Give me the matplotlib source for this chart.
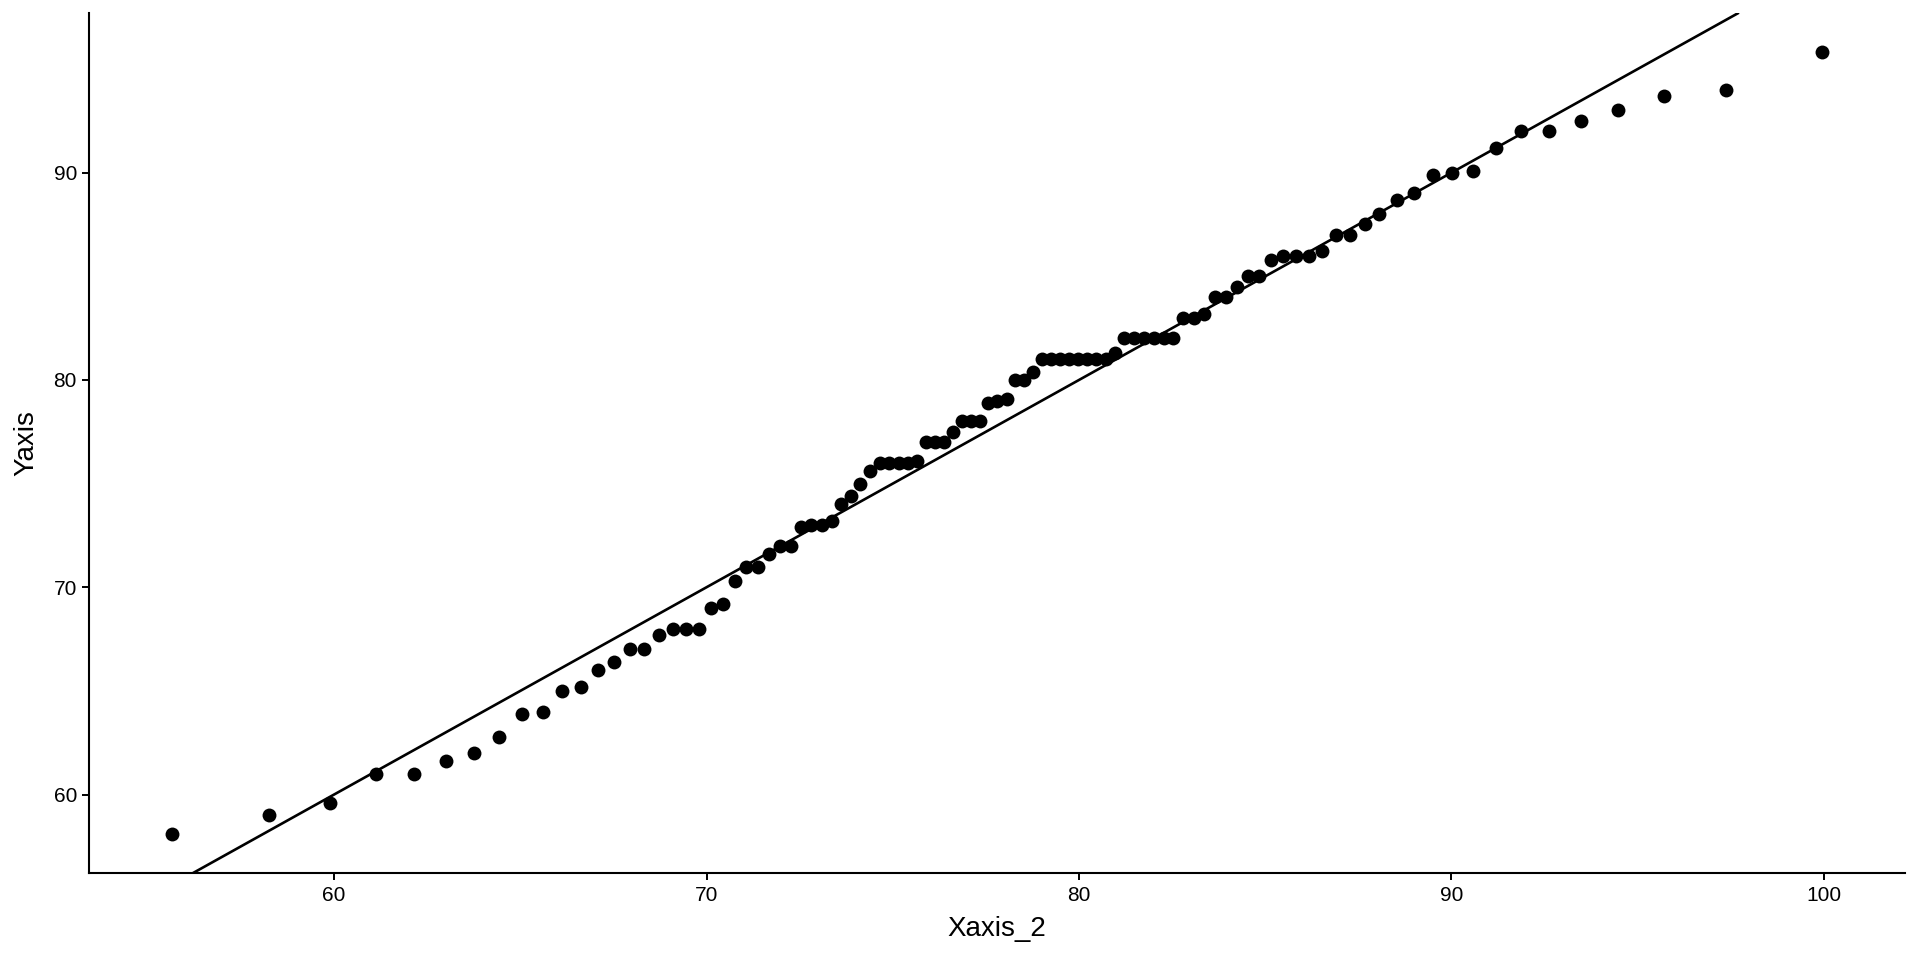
import matplotlib
matplotlib.use("Agg")
import matplotlib.pyplot as plt

plt.rcParams['font.family'] = ['Liberation Sans', 'DejaVu Sans']

# values (Xaxis_2 vs Yaxis, sorted pairs)
xaxis_2 = [55.65, 58.25, 59.89, 61.14, 62.14, 63.00, 63.75, 64.42, 65.04, 65.60,
           66.13, 66.62, 67.09, 67.51, 67.94, 68.32, 68.72, 69.09, 69.44, 69.79,
           70.12, 70.45, 70.77, 71.07, 71.38, 71.68, 71.97, 72.26, 72.54, 72.81,
           73.09, 73.37, 73.61, 73.88, 74.13, 74.39, 74.65, 74.90, 75.16, 75.41,
           75.65, 75.89, 76.13, 76.37, 76.61, 76.86, 77.10, 77.34, 77.57, 77.81,
           78.06, 78.28, 78.52, 78.76, 79.00, 79.25, 79.49, 79.73, 79.97, 80.21,
           80.46, 80.73, 80.97, 81.21, 81.47, 81.74, 82.01, 82.28, 82.53, 82.79,
           83.08, 83.36, 83.65, 83.94, 84.23, 84.53, 84.84, 85.16, 85.48, 85.82,
           86.17, 86.52, 86.90, 87.27, 87.68, 88.06, 88.54, 89.00, 89.50, 90.01,
           90.59, 91.19, 91.87, 92.62, 93.47, 94.48, 95.71, 97.37, 99.96]
yaxis = [58.1, 59.0, 59.6, 61.0, 61.0, 61.6, 62.0, 62.8, 63.9, 64.0,
         65.0, 65.2, 66.0, 66.4, 67.0, 67.0, 67.7, 68.0, 68.0, 68.0,
         69.0, 69.2, 70.3, 71.0, 71.0, 71.6, 72.0, 72.0, 72.9, 73.0,
         73.0, 73.2, 74.0, 74.4, 75.0, 75.6, 76.0, 76.0, 76.0, 76.0,
         76.1, 77.0, 77.0, 77.0, 77.5, 78.0, 78.0, 78.0, 78.9, 79.0,
         79.1, 80.0, 80.0, 80.4, 81.0, 81.0, 81.0, 81.0, 81.0, 81.0,
         81.0, 81.0, 81.3, 82.0, 82.0, 82.0, 82.0, 82.0, 82.0, 83.0,
         83.0, 83.2, 84.0, 84.0, 84.5, 85.0, 85.0, 85.8, 86.0, 86.0,
         86.0, 86.2, 87.0, 87.0, 87.5, 88.0, 88.7, 89.0, 89.9, 90.0,
         90.1, 91.2, 92.0, 92.0, 92.5, 93.0, 93.7, 94.0, 95.8]

# reference line y = intercept + slope * x
line_intercept = 0.0
line_slope = 1.0

x_ticks = [60, 70, 80, 90, 100]
y_ticks = [60, 70, 80, 90]

fig = plt.figure(figsize=(19.2, 9.6), dpi=100)
ax = fig.add_axes([0.0466, 0.0906, 0.9456, 0.8955])

ax.scatter(xaxis_2, yaxis, s=100, color='black', linewidths=0, zorder=3)
ax.axline((0, line_intercept), slope=line_slope, color='black', lw=1.9, zorder=2)

# ggplot-style 5% expansion
xr = max(xaxis_2) - min(xaxis_2)
yr = max(yaxis) - min(yaxis)
ax.set_xlim(min(xaxis_2) - 0.05 * xr, max(xaxis_2) + 0.05 * xr)
ax.set_ylim(min(yaxis) - 0.05 * yr, max(yaxis) + 0.05 * yr)

ax.set_xticks(x_ticks)
ax.set_yticks(y_ticks)
ax.tick_params(length=5, width=1.4, labelsize=15, colors='black', pad=4)

for side in ['top', 'right']:
    ax.spines[side].set_visible(False)
for side in ['left', 'bottom']:
    ax.spines[side].set_linewidth(1.5)

ax.set_xlabel('Xaxis_2', fontsize=20, labelpad=8)
ax.set_ylabel('Yaxis', fontsize=20, labelpad=10)

fig.savefig('out.png', dpi=100, facecolor='white')
